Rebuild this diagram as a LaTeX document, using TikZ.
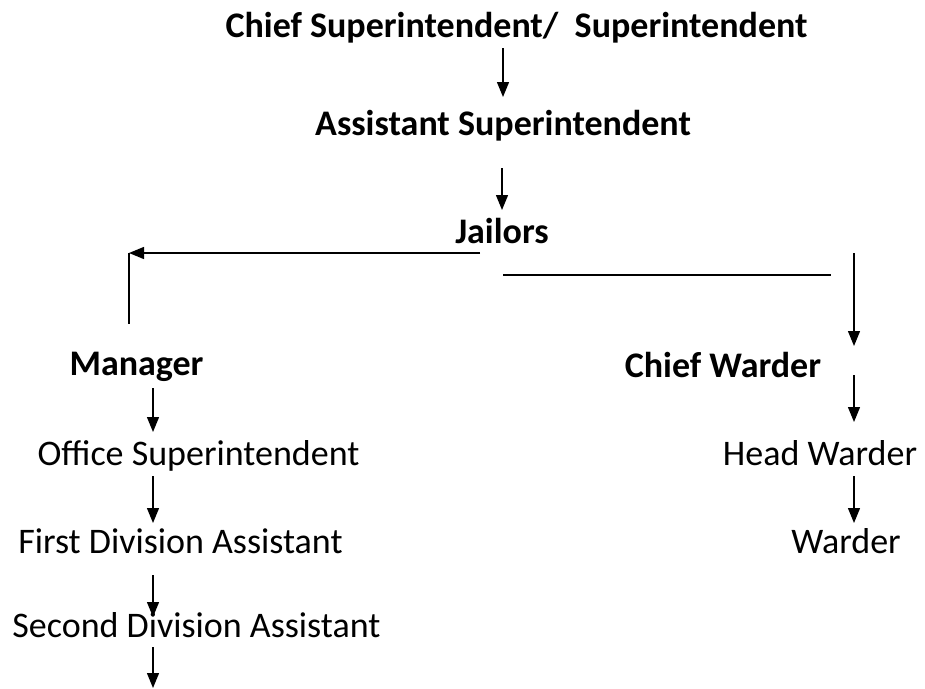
\documentclass[tikz,border=0pt]{standalone}
\usepackage{fontspec}
\setmainfont{Carlito}
\usetikzlibrary{arrows.meta,calc}

\begin{document}
\begin{tikzpicture}[
  x=1pt, y=-1pt,
  font=\fontsize{36}{40}\selectfont,
  post/.style={inner sep=0pt,anchor=base},
  head/.style={post,font=\fontsize{36}{40}\selectfont\bfseries},
  arr/.style={-{Triangle[length=15pt,width=12pt]},line width=1.3pt},
  link/.style={line width=1.3pt}
]
\useasboundingbox (0,0) rectangle (925,688);
% columns of the arrows
\coordinate (midcol) at (503,0);
\coordinate (leftcol) at (153,0);
\coordinate (rightcol) at (854,0);

\node[head] (chief) at (516.5,37) {Chief Superintendent/~ Superintendent};
\node[head] (asst) at (503,135) {Assistant Superintendent};
\node[head] (jailors) at (502,243) {Jailors};
\node[head] (manager) at (136.5,375) {Manager};
\node[head] (cwarder) at (723,377) {Chief Warder};
\node[post] (office) at (198.5,465) {Office Superintendent};
\node[post] (hwarder) at (820,465) {Head Warder};
\node[post] (firstdiv) at (180.5,553) {First Division Assistant};
\node[post] (warder) at (846,553) {Warder};
\node[post] (seconddiv) at (196.5,637) {Second Division Assistant};

% top chain
\draw[arr] ($(chief.base -| midcol)+(0,11)$) -- ($(asst.base -| midcol)+(0,-38)$);
\draw[arr] ($(asst.base -| midcol)+(-1,33)$) -- ($(jailors.base -| midcol)+(-1,-33)$);

% split below the jailors
\coordinate (jl) at (480,253);
\coordinate (mgrtop) at (129,324);
\coordinate (jr) at (503,275);
\coordinate (jrend) at (831,275);
\draw[arr] (jl) -- (jl -| mgrtop);
\draw[link] (jl -| mgrtop) -- (mgrtop);
\draw[link] (jr) -- (jrend);
\draw[arr] ($(jl -| rightcol)$) -- ($(cwarder.base -| rightcol)+(0,-31)$);

% right branch
\draw[arr] ($(cwarder.base -| rightcol)+(0,-2)$) -- ($(hwarder.base -| rightcol)+(0,-43)$);
\draw[arr] ($(hwarder.base -| rightcol)+(0,11)$) -- ($(warder.base -| rightcol)+(0,-30)$);

% left branch
\coordinate (bottom) at (153,688);
\draw[arr] ($(manager.base -| leftcol)+(0,13)$) -- ($(office.base -| leftcol)+(0,-33)$);
\draw[arr] ($(office.base -| leftcol)+(0,11)$) -- ($(firstdiv.base -| leftcol)+(0,-30)$);
\draw[arr] ($(firstdiv.base -| leftcol)+(0,22)$) -- ($(seconddiv.base -| leftcol)+(0,-20)$);
\draw[arr] ($(seconddiv.base -| leftcol)+(0,10)$) -- (bottom);
\end{tikzpicture}
\end{document}
